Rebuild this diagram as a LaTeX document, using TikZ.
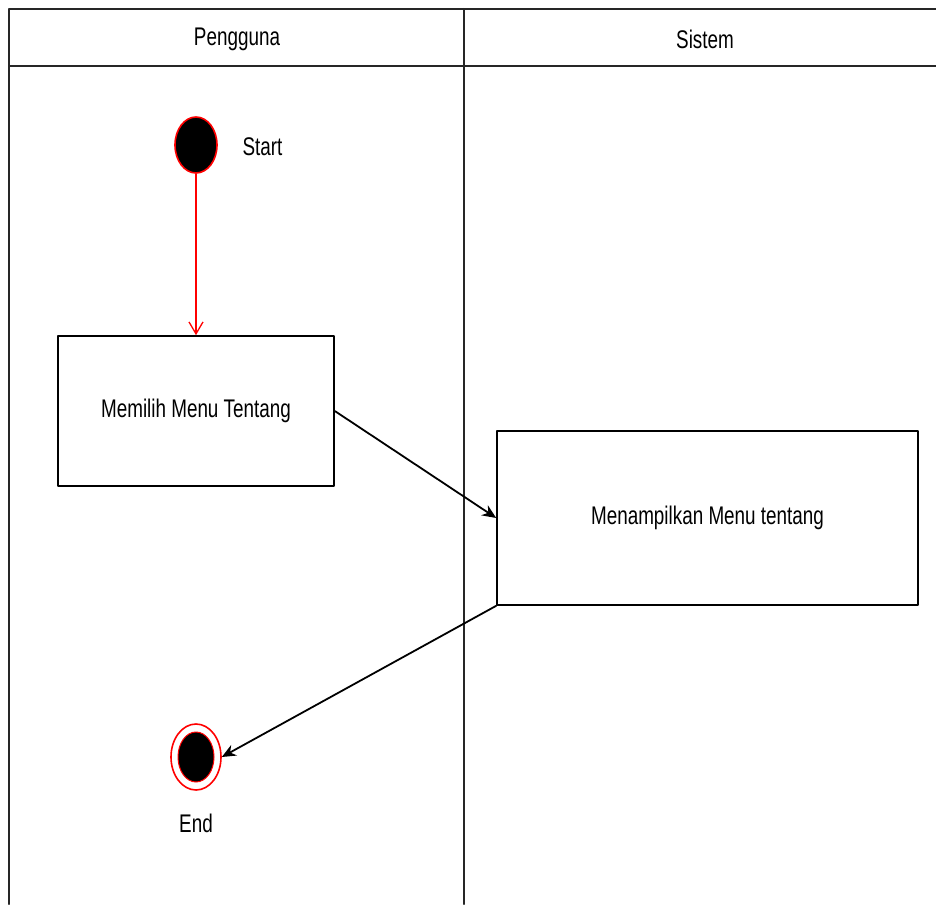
\documentclass[tikz,border=0pt]{standalone}
\usepackage{fontspec}
\setmainfont[FakeStretch=0.74]{Liberation Sans}
\usetikzlibrary{arrows.meta,shapes.geometric,positioning}

\tikzset{
  lane/.style={line width=2pt, black!85},
  activity/.style={draw, line width=1.6pt, rectangle, inner sep=0pt},
  startnode/.style={draw=red, fill=black, ellipse, line width=1.6pt,
    minimum width=42pt, minimum height=56pt, inner sep=0pt},
  endring/.style={draw=red, ellipse, line width=1.6pt,
    minimum width=50pt, minimum height=66pt, inner sep=0pt},
  enddot/.style={draw=red, fill=black, ellipse, line width=1pt,
    minimum width=36pt, minimum height=50pt, inner sep=0pt},
  flow/.style={line width=1.8pt, -{Stealth[length=14pt, width=12pt]}},
  redflow/.style={red, line width=1.3pt, -{Straight Barb[length=12pt, width=14pt]}},
  lbl/.style={font=\fontsize{25.5}{30}\selectfont},
}

\begin{document}
\begin{tikzpicture}[x=1pt, y=-1pt, line cap=round, line join=round]

  \useasboundingbox (0,0) rectangle (936,904);

  % Swimlanes
  \draw[lane] (9,904) -- (9,9) -- (936,9);
  \draw[lane] (9,66) -- (936,66);
  \draw[lane] (464,9) -- (464,904);
  \node[lbl] (lanea) at (237,39) {Pengguna};
  \node[lbl] (laneb) at (705,39) {Sistem};

  % Start
  \node[startnode] (start) at (196,145) {};
  \node[lbl, anchor=west] (startlbl) at (239,147) {Start};

  % Activities
  \node[activity, minimum width=276pt, minimum height=150pt, lbl] (pilih) at (196,411) {Memilih Menu Tentang};
  \node[activity, minimum width=421pt, minimum height=174pt, lbl] (tampil) at (707.5,518) {Menampilkan Menu tentang};

  % End
  \node[endring] (end) at (196,757) {};
  \node[enddot] (enddot) at (end) {};
  \node[lbl, below=20pt of end] (endlbl) {End};

  % Flow
  \draw[redflow] (start) -- (pilih.north -| start);
  \draw[flow] (pilih.east) -- (tampil.west);
  \draw[flow] (tampil.south west) -- (end.east);

\end{tikzpicture}
\end{document}
